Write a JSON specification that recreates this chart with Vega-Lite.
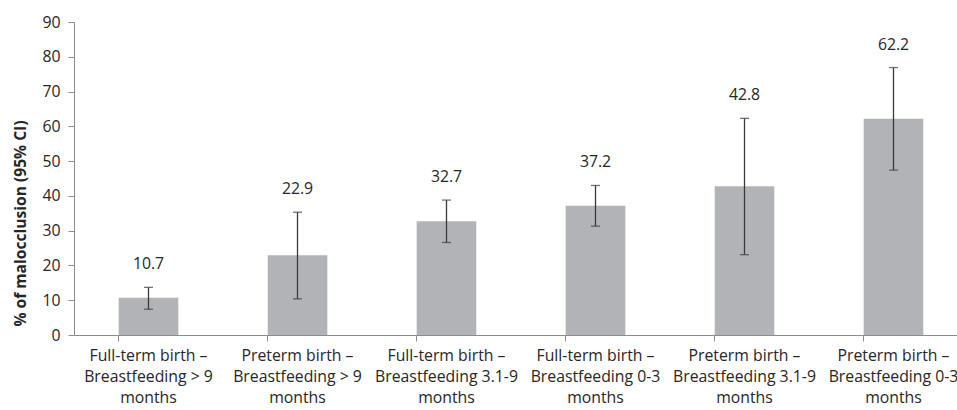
{
  "$schema": "https://vega.github.io/schema/vega-lite/v6.json",
  "width": 894,
  "height": 313,
  "autosize": "none",
  "padding": {"left": 74, "top": 22, "right": 0, "bottom": 75},
  "background": "white",
  "config": {
    "view": {"stroke": null},
    "font": "Open Sans",
    "axis": {
      "labelFontSize": 15.8,
      "labelColor": "#262626",
      "titleFontSize": 15.6,
      "titleColor": "#262626",
      "tickSize": 6,
      "tickColor": "#8c8c8c",
      "domainColor": "#8c8c8c",
      "grid": false,
      "labelOverlap": false
    },
    "axisY": {
      "labelPadding": 8,
      "titleFontWeight": "bold"
    }
  },
  "data": {
    "values": [
      {"group": "Full-term birth –|Breastfeeding > 9|months", "pct": 10.7, "lo": 7.4, "hi": 13.7},
      {"group": "Preterm birth –|Breastfeeding > 9|months", "pct": 22.9, "lo": 10.4, "hi": 35.3},
      {"group": "Full-term birth –|Breastfeeding 3.1-9|months", "pct": 32.7, "lo": 26.6, "hi": 38.8},
      {"group": "Full-term birth –|Breastfeeding 0-3|months", "pct": 37.2, "lo": 31.3, "hi": 43.0},
      {"group": "Preterm birth –|Breastfeeding 3.1-9|months", "pct": 42.8, "lo": 23.1, "hi": 62.3},
      {"group": "Preterm birth –|Breastfeeding 0-3|months", "pct": 62.2, "lo": 47.4, "hi": 76.9}
    ]
  },
  "encoding": {
    "x": {
      "field": "group",
      "type": "nominal",
      "sort": null,
      "scale": {"paddingInner": 0.6, "paddingOuter": 0.3},
      "axis": {
        "title": null,
        "labelAngle": 0,
        "labelExpr": "split(datum.value, '|')",
        "labelLineHeight": 21,
        "labelPadding": 7,
        "labelBaseline": "top",
        "bandPosition": 0
      }
    }
  },
  "layer": [
    {
      "mark": {"type": "bar", "color": "#b2b3b6"},
      "encoding": {
        "y": {
          "field": "pct",
          "type": "quantitative",
          "scale": {"domain": [0, 90], "nice": false},
          "axis": {
            "title": "% of malocclusion (95% CI)",
            "tickCount": 10,
            "values": [0, 10, 20, 30, 40, 50, 60, 70, 80, 90],
            "titleX": -54,
            "titleY": 201,
            "titleBaseline": "middle",
            "titleAlign": "center"
          }
        }
      }
    },
    {
      "mark": {"type": "rule", "color": "#3a3a3a", "strokeWidth": 1.3},
      "encoding": {
        "y": {"field": "lo", "type": "quantitative"},
        "y2": {"field": "hi"}
      }
    },
    {
      "mark": {"type": "tick", "color": "#3a3a3a", "thickness": 1.3, "size": 9, "orient": "horizontal"},
      "encoding": {"y": {"field": "lo", "type": "quantitative"}}
    },
    {
      "mark": {"type": "tick", "color": "#3a3a3a", "thickness": 1.3, "size": 9, "orient": "horizontal"},
      "encoding": {"y": {"field": "hi", "type": "quantitative"}}
    },
    {
      "mark": {"type": "text", "fontSize": 15.8, "color": "#262626", "dy": -23, "baseline": "middle"},
      "encoding": {
        "y": {"field": "hi", "type": "quantitative"},
        "text": {"field": "pct", "type": "quantitative", "format": ".1f"}
      }
    }
  ]
}
